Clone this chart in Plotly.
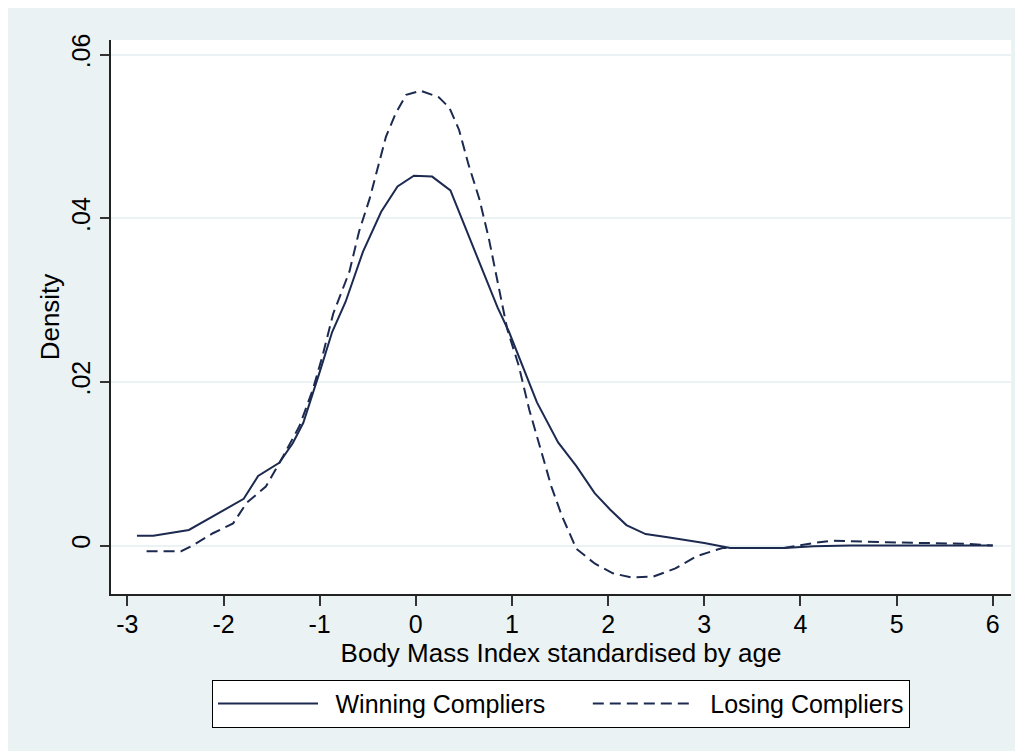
import plotly.graph_objects as go

# ---- data ----
win_x = [-2.90, -2.73, -2.36, -2.00, -1.79, -1.64, -1.42, -1.28, -1.17, -1.00, -0.87, -0.73,
         -0.55, -0.36, -0.19, -0.02, 0.17, 0.36, 0.52, 0.69, 0.85, 0.97, 1.11, 1.26, 1.48,
         1.67, 1.86, 2.02, 2.19, 2.39, 2.62, 3.00, 3.27, 3.57, 3.83, 4.14, 4.52, 6.00]
win_y = [0.0012, 0.0012, 0.0019, 0.0043, 0.0057, 0.0085, 0.0101, 0.0125, 0.0150, 0.0212,
         0.0261, 0.0298, 0.0359, 0.0408, 0.0439, 0.0452, 0.0451, 0.0434, 0.0387, 0.0338,
         0.0291, 0.0261, 0.0220, 0.0175, 0.0126, 0.0097, 0.0064, 0.0044, 0.0025, 0.0014,
         0.0010, 0.0003, -0.0003, -0.0003, -0.0003, -0.0001, 0.0, 0.0]

lose_x = [-2.80, -2.44, -2.32, -2.11, -1.90, -1.76, -1.56, -1.38, -1.21, -1.07, -0.97, -0.86,
          -0.69, -0.59, -0.48, -0.40, -0.31, -0.21, -0.10, 0.05, 0.24, 0.35, 0.45, 0.55,
          0.66, 0.76, 0.88, 0.95, 1.07, 1.18, 1.30, 1.41, 1.52, 1.67, 1.86, 2.05, 2.24,
          2.47, 2.70, 2.92, 3.19, 3.57, 3.83, 4.14, 4.33, 4.89, 5.73, 6.00]
lose_y = [-0.0007, -0.0007, 0.0000, 0.0015, 0.0027, 0.0052, 0.0072, 0.0109, 0.0146, 0.0191,
          0.0232, 0.0283, 0.0335, 0.0384, 0.0424, 0.0461, 0.0500, 0.0528, 0.0551, 0.0556,
          0.0548, 0.0535, 0.0508, 0.0465, 0.0424, 0.0375, 0.0305, 0.0265, 0.0220, 0.0166,
          0.0117, 0.0072, 0.0036, -0.0004, -0.0022, -0.0034, -0.0039, -0.0038, -0.0028,
          -0.0013, -0.0003, -0.0003, -0.0003, 0.0003, 0.0006, 0.0004, 0.0002, 0.0]

x_ticks = [-3, -2, -1, 0, 1, 2, 3, 4, 5, 6]
x_tick_text = ["-3", "-2", "-1", "0", "1", "2", "3", "4", "5", "6"]
y_ticks = [0, 0.02, 0.04, 0.06]
y_tick_text = ["0", ".02", ".04", ".06"]

series_names = ["Winning Compliers", "Losing Compliers"]
x_title = "Body Mass Index standardised by age"
y_title = "Density"

# ---- style ----
NAVY = "#1c2a50"
BG = "#eaf2f3"
FONT = "Liberation Sans, Arial, sans-serif"
LEAD = "\u2002"
TRAIL = "\u2003\u2002"

fig = go.Figure()
fig.add_trace(go.Scatter(x=win_x, y=win_y, mode="lines", name=LEAD + series_names[0] + TRAIL,
                         line=dict(color=NAVY, width=2)))
fig.add_trace(go.Scatter(x=lose_x, y=lose_y, mode="lines", name=LEAD + series_names[1],
                         line=dict(color=NAVY, width=2, dash="11px,6px")))

fig.update_layout(
    width=1015, height=743,
    margin=dict(l=103, r=12, t=32, b=157),
    paper_bgcolor=BG, plot_bgcolor="white",
    font=dict(family=FONT, size=25, color="black"),
    showlegend=True,
    legend=dict(orientation="h", x=0.5, xanchor="center", y=-0.155, yanchor="top",
                bgcolor="white", bordercolor="black", borderwidth=1,
                itemwidth=100, font=dict(size=25), traceorder="normal"),
    xaxis=dict(range=[-3.17, 6.19], tickvals=x_ticks, ticktext=x_tick_text,
               ticks="outside", ticklen=10, ticklabelstandoff=-3,
               tickcolor="#333333", tickwidth=1.5, showline=True, linecolor="#222222",
               linewidth=1.5, showgrid=False, zeroline=False,
               title=dict(text=x_title, standoff=0, font=dict(size=26))),
    yaxis=dict(range=[-0.00593, 0.0618], tickvals=y_ticks, ticktext=y_tick_text,
               tickangle=-90, ticks="outside", ticklen=9, tickcolor="#333333", tickwidth=1.5,
               showline=True, linecolor="#222222", linewidth=1.5,
               showgrid=True, gridcolor=BG, gridwidth=2, zeroline=False,
               title=dict(text=y_title, standoff=0, font=dict(size=26))),
)

fig.write_html("out.html")
